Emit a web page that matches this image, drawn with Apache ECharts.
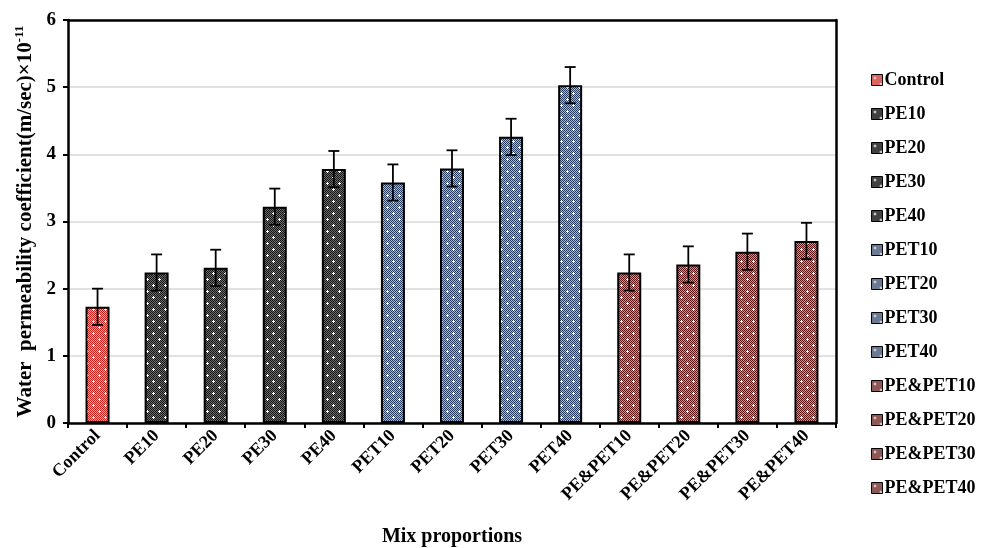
<!DOCTYPE html>
<html>
<head>
<meta charset="utf-8">
<script src="https://cdn.jsdelivr.net/npm/echarts@6/dist/echarts.min.js"></script>
<style>
  html, body { margin: 0; padding: 0; background: #fff; }
  #chart { width: 991px; height: 548px; }
</style>
</head>
<body>
<div id="chart"></div>
<script>
// Mix proportions and measured permeability (×10^-11 m/sec) with error margins
const categories = ['Control', 'PE10', 'PE20', 'PE30', 'PE40', 'PET10', 'PET20', 'PET30', 'PET40',
                    'PE&PET10', 'PE&PET20', 'PE&PET30', 'PE&PET40'];
const values = [1.73, 2.24, 2.31, 3.22, 3.78, 3.58, 3.79, 4.26, 5.03, 2.24, 2.36, 2.55, 2.71];
const errors = [0.27, 0.27, 0.27, 0.27, 0.27, 0.27, 0.27, 0.27, 0.27, 0.27, 0.27, 0.27, 0.27];
const groups = ['control', 'pe', 'pe', 'pe', 'pe', 'pet', 'pet', 'pet', 'pet', 'mix', 'mix', 'mix', 'mix'];
const yTicks = [0, 1, 2, 3, 4, 5, 6];

const FONT = '"Liberation Serif", "Times New Roman", serif';

// Checkered fill with white crosses, one per material group
function makePattern(fg, light) {
  const c = document.createElement('canvas');
  c.width = 12; c.height = 12;
  const g = c.getContext('2d');
  for (let y = 0; y < 12; y++) {
    for (let x = 0; x < 12; x++) {
      g.fillStyle = ((x + y) % 2 === 0) ? fg : light;
      g.fillRect(x, y, 1, 1);
    }
  }
  g.fillStyle = '#ffffff';
  [[3, 3], [9, 9]].forEach(([cx, cy]) => {
    g.fillRect(cx - 1, cy, 3, 1);
    g.fillRect(cx, cy - 1, 1, 3);
  });
  return c;
}
const patterns = {
  control: makePattern('#c8201c', '#f2a8a0'),
  pe: makePattern('#141414', '#6e6e6e'),
  pet: makePattern('#263a5e', '#b0bacb'),
  mix: makePattern('#5c1414', '#c59a9a')
};

const barSeries = categories.map((name, i) => ({
  name: name,
  type: 'bar',
  stack: 'all',
  barWidth: 24,
  itemStyle: {
    color: { image: patterns[groups[i]], repeat: 'repeat' },
    borderColor: '#000',
    borderWidth: 2
  },
  data: categories.map((_, j) => (j === i ? values[i] : '-'))
}));

const errorSeries = {
  type: 'custom',
  name: 'error',
  z: 10,
  data: values.map((v, i) => [i, v - errors[i], v + errors[i]]),
  renderItem: function (params, api) {
    const x = api.value(0);
    const lo = api.coord([x, api.value(1)]);
    const hi = api.coord([x, api.value(2)]);
    const half = 5.5;
    const style = { stroke: '#000', lineWidth: 1.8 };
    return {
      type: 'group',
      children: [
        { type: 'line', shape: { x1: lo[0], y1: lo[1], x2: hi[0], y2: hi[1] }, style: style },
        { type: 'line', shape: { x1: hi[0] - half, y1: hi[1], x2: hi[0] + half, y2: hi[1] }, style: style },
        { type: 'line', shape: { x1: lo[0] - half, y1: lo[1], x2: lo[0] + half, y2: lo[1] }, style: style }
      ]
    };
  }
};

const chart = echarts.init(document.getElementById('chart'), null, { renderer: 'canvas' });
chart.setOption({
  animation: false,
  backgroundColor: '#fff',
  grid: { left: 68, right: 155, top: 20, bottom: 125, outerBoundsMode: 'none', containLabel: false },
  legend: {
    orient: 'vertical',
    left: 866,
    top: 66,
    icon: 'rect',
    itemWidth: 11,
    itemHeight: 11,
    itemGap: 16,
    data: categories,
    itemStyle: { borderWidth: 1, borderColor: '#000' },
    textStyle: { fontFamily: FONT, fontWeight: 'bold', fontSize: 18, color: '#000', padding: [0, 0, 0, -3] }
  },
  xAxis: [{
    type: 'category',
    data: categories,
    name: 'Mix proportions',
    nameLocation: 'middle',
    nameGap: 104,
    nameTextStyle: { fontFamily: FONT, fontWeight: 'bold', fontSize: 20, color: '#000' },
    axisLine: { lineStyle: { color: '#000', width: 2.5 } },
    axisTick: { show: true, length: 5, lineStyle: { color: '#000', width: 2 } },
    axisLabel: {
      rotate: 45, interval: 0, margin: 10,
      fontFamily: FONT, fontWeight: 'bold', fontSize: 18, color: '#000'
    },
    splitLine: { show: false }
  }, {
    // top edge of the plot frame
    type: 'category',
    position: 'top',
    data: categories,
    axisLine: { show: true, onZero: false, lineStyle: { color: '#000', width: 2.5 } },
    axisTick: { show: false },
    axisLabel: { show: false },
    splitLine: { show: false }
  }],
  yAxis: [{
    type: 'value',
    min: 0, max: 6, interval: 1,
    name: 'Water  permeability coefficient(m/sec)×10{sup|-11}',
    nameLocation: 'middle',
    nameGap: 31,
    nameRotate: 90,
    nameTextStyle: {
      fontFamily: FONT, fontWeight: 'bold', fontSize: 21, color: '#000',
      rich: { sup: { fontFamily: FONT, fontWeight: 'bold', fontSize: 13, color: '#000', padding: [0, 0, 10, 0] } }
    },
    axisLine: { show: true, lineStyle: { color: '#000', width: 2.5 } },
    axisTick: { show: true, length: 5, lineStyle: { color: '#000', width: 2 } },
    axisLabel: {
      margin: 12,
      fontFamily: FONT, fontWeight: 'bold', fontSize: 19, color: '#000',
      formatter: v => (yTicks.includes(v) ? String(v) : '')
    },
    splitLine: { lineStyle: { color: '#d9d9d9', width: 1.5 } }
  }, {
    // right edge of the plot frame
    type: 'value',
    position: 'right',
    min: 0, max: 6, interval: 1,
    axisLine: { show: true, onZero: false, lineStyle: { color: '#000', width: 2.5 } },
    axisTick: { show: false },
    axisLabel: { show: false },
    splitLine: { show: false }
  }],
  series: barSeries.concat([errorSeries])
});
</script>
</body>
</html>
